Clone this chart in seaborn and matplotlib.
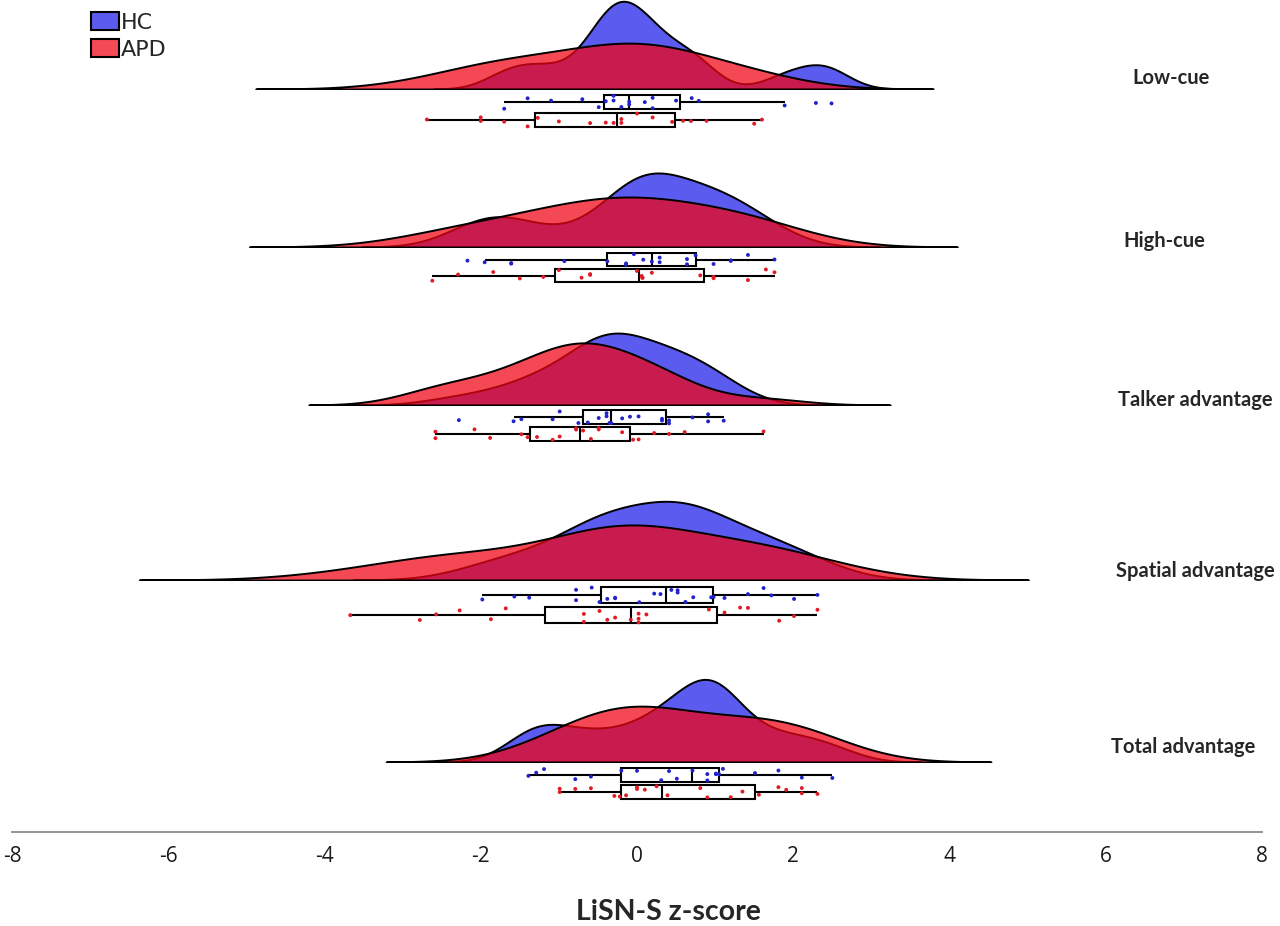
import numpy as np
import pandas as pd
import matplotlib
matplotlib.use('Agg')
import matplotlib.pyplot as plt
import seaborn as sns
from matplotlib.patches import Patch

# LiSN-S z-scores, one list per measure and group
measures = ['Low-cue', 'High-cue', 'Talker advantage', 'Spatial advantage', 'Total advantage']
groups = ['HC', 'APD']

hc_low = [-1.70, -1.40, -1.10, -0.70, -0.49, -0.40, -0.30, -0.30, -0.20, -0.10,
          -0.10, 0.10, 0.20, 0.20, 0.50, 0.70, 0.79, 1.89, 2.29, 2.49]
apd_low = [-2.69, -2.00, -2.00, -1.70, -1.40, -1.27, -1.00, -0.60, -0.40, -0.30,
           -0.20, -0.20, 0.00, 0.20, 0.45, 0.59, 0.69, 0.89, 1.50, 1.60]

hc_high = [-2.17, -1.95, -1.61, -1.61, -0.93, -0.38, -0.14, -0.14, -0.04, 0.08, 0.19,
           0.29, 0.29, 0.64, 0.64, 0.75, 0.98, 1.20, 1.20, 1.42, 1.76]
apd_high = [-2.62, -2.29, -1.84, -1.50, -1.20, -1.00, -0.71, -0.60, -0.60, 0.00,
            0.06, 0.07, 0.07, 0.19, 0.81, 0.98, 0.98, 1.42, 1.65, 1.76]

hc_talker = [-2.28, -1.58, -1.48, -1.08, -0.99, -0.75, -0.63, -0.49, -0.39, -0.39, -0.35,
             -0.33, -0.19, -0.09, 0.02, 0.32, 0.32, 0.41, 0.41, 0.71, 0.91, 0.91, 1.11]
apd_talker = [-2.58, -2.58, -2.08, -1.88, -1.48, -1.40, -1.28, -1.08, -0.99, -0.78, -0.78,
              -0.69, -0.59, -0.49, -0.49, -0.19, -0.05, 0.02, 0.22, 0.41, 0.61, 1.62]

hc_spatial = [-1.98, -1.57, -1.38, -0.78, -0.78, -0.58, -0.48, -0.38, -0.28, -0.28, 0.03, 0.22, 0.30,
              0.44, 0.52, 0.52, 0.62, 0.72, 0.95, 0.98, 1.12, 1.42, 1.62, 1.72, 2.01, 2.31]
apd_spatial = [-3.67, -2.78, -2.57, -2.27, -1.87, -1.68, -0.68, -0.68, -0.48, -0.38, -0.28, -0.08,
               0.02, 0.02, 0.02, 0.12, 0.92, 1.12, 1.32, 1.42, 1.82, 2.01, 2.31]

hc_total = [-1.39, -1.29, -1.19, -0.79, -0.59, -0.20, 0.00, 0.31, 0.41, 0.51, 0.71,
            0.90, 0.90, 1.01, 1.01, 1.05, 1.10, 1.51, 1.81, 2.11, 2.50]
apd_total = [-0.99, -0.99, -0.79, -0.59, -0.29, -0.22, -0.14, 0.00, 0.00, 0.10, 0.25,
             0.39, 0.81, 0.90, 1.20, 1.35, 1.56, 1.81, 1.91, 2.11, 2.11, 2.31]

hc_data = [hc_low, hc_high, hc_talker, hc_spatial, hc_total]
apd_data = [apd_low, apd_high, apd_talker, apd_spatial, apd_total]

# kernel bandwidths (z units) per measure
hc_bw = [0.30, 0.45, 0.45, 0.55, 0.38]
apd_bw = [0.73, 0.78, 0.54, 0.90, 0.74]

xticks = [-8, -6, -4, -2, 0, 2, 4, 6, 8]

HC_FILL = '#5b5bef'
APD_FILL = (0.945, 0.02, 0.08, 0.73)
APD_LEGEND = '#f54a55'
HC_DOT = '#2222cc'
APD_DOT = '#e01b24'

W, H = 1280, 926
plt.rcParams['axes.unicode_minus'] = False
sns.set_style('white')
plt.rcParams['font.family'] = ['Open Sans', 'DejaVu Sans']

fig = plt.figure(figsize=(W / 100, H / 100), dpi=100)

X0, XW = 12, 1250          # pixel extent of the -8..8 axis
baselines = [89, 247, 405, 580, 762]
box_centers = [(102, 120), (259.5, 275.5), (417, 434), (595, 615), (775, 792)]
label_pos = [(1171, 78), (1164, 241), (1195, 400), (1195, 571), (1183, 747)]
KDE_H = 140                                # px height of each density axes
px_per_dens = [165, 196, 170, 248, 198]    # cloud scaling per row


def fig_rect(left, top, width, height):
    return [left / W, 1 - (top + height) / H, width / W, height / H]


def draw_kde(ax, vals, bw, fc):
    vals = np.asarray(vals)
    sns.kdeplot(x=vals, ax=ax, bw_method=bw / np.std(vals, ddof=1), cut=3, gridsize=400,
                fill=True, facecolor=fc, edgecolor='black', linewidth=1.4)


for i, name in enumerate(measures):
    # rain cloud
    axk = fig.add_axes(fig_rect(X0, baselines[i] - KDE_H, XW, KDE_H))
    axk.patch.set_alpha(0)
    draw_kde(axk, hc_data[i], hc_bw[i], HC_FILL)
    draw_kde(axk, apd_data[i], apd_bw[i], APD_FILL)
    axk.set_xlim(-8, 8)
    axk.set_ylim(0, KDE_H / px_per_dens[i])
    axk.set_axis_off()

    # boxes + jittered points
    c_hc, c_apd = box_centers[i]
    s = c_apd - c_hc
    axb = fig.add_axes(fig_rect(X0, c_hc - s / 2, XW, 2 * s))
    axb.patch.set_alpha(0)
    df = pd.DataFrame({
        'score': list(hc_data[i]) + list(apd_data[i]),
        'group': ['HC'] * len(hc_data[i]) + ['APD'] * len(apd_data[i]),
    })
    sns.boxplot(data=df, x='score', y='group', order=groups, orient='h', ax=axb,
                color='white', linecolor='black', linewidth=1.5, width=0.78,
                showcaps=False, showfliers=False, whis=1.5)
    sns.stripplot(data=df, x='score', y='group', order=groups, hue='group',
                  palette={'HC': HC_DOT, 'APD': APD_DOT}, orient='h', ax=axb,
                  jitter=0.38, size=2.8, linewidth=0, legend=False, zorder=3)
    axb.set_xlim(-8, 8)
    axb.set_ylim(1.5, -0.5)
    axb.set_axis_off()

    lx, ly = label_pos[i]
    fig.text(lx / W, 1 - ly / H, name, ha='center', va='center',
             fontsize=14.5, fontweight='bold', family=['Lato', 'DejaVu Sans'])

# x axis at the bottom
axx = fig.add_axes(fig_rect(X0, 300, XW, 532))
axx.patch.set_alpha(0)
axx.set_xlim(-8, 8)
axx.set_xticks(xticks)
axx.set_xticklabels([str(t) for t in xticks])
axx.set_yticks([])
for side in ['top', 'left', 'right']:
    axx.spines[side].set_visible(False)
axx.spines['bottom'].set_color('#8a8a8a')
axx.spines['bottom'].set_linewidth(1.3)
axx.tick_params(axis='x', direction='in', length=9.5, width=1.3, color='#8a8a8a',
                pad=10, labelsize=15, labelcolor='#1a1a1a')

fig.text(668 / W, 1 - 912 / H, 'LiSN-S z-score', ha='center', va='center',
         fontsize=20.5, fontweight='bold', family=['Lato', 'DejaVu Sans'])

handles = [Patch(facecolor=HC_FILL, edgecolor='black', linewidth=1.5, label='HC'),
           Patch(facecolor=APD_LEGEND, edgecolor='black', linewidth=1.5, label='APD')]
fig.legend(handles=handles, loc='upper left', bbox_to_anchor=(91 / W, 1 - 12 / H),
           frameon=False, prop={'family': 'DejaVu Sans', 'size': 16},
           handlelength=1.25, handleheight=0.85, handletextpad=0.1,
           labelspacing=0.3, borderpad=0, borderaxespad=0)

fig.savefig('out.png', dpi=100)
